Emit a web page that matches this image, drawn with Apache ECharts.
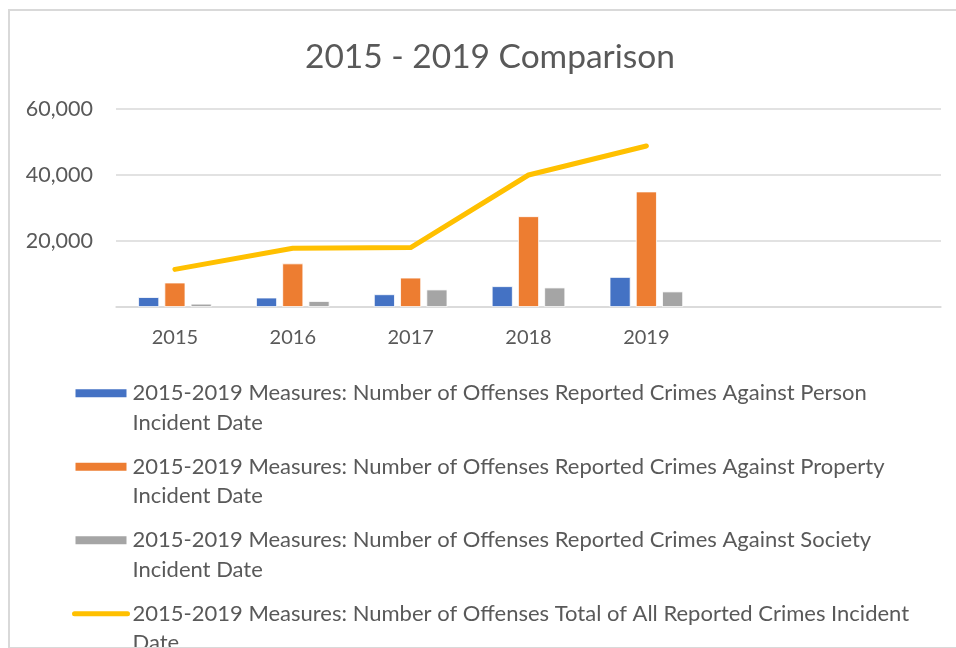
<!DOCTYPE html>
<html lang="en">
<head>
  <meta charset="UTF-8">
  <title>2015 - 2019 Comparison</title>
  <script src="https://cdn.jsdelivr.net/npm/echarts@6/dist/echarts.min.js"></script>
  <style>
    html, body { margin: 0; padding: 0; background: #fff; }
    #frame {
      position: absolute;
      left: 8px;
      top: 9px;
      width: 960px;
      height: 636px;
      border: 2px solid #d9d9d9;
      overflow: hidden;
    }
    #main {
      position: absolute;
      left: -10px;
      top: -11px;
      width: 956px;
      height: 648px;
    }
  </style>
</head>
<body>
<div id="frame"><div id="main"></div></div>
<script>
  const chart = echarts.init(document.getElementById('main'));

  const years = ['2015', '2016', '2017', '2018', '2019'];
  const emptySlots = ['', ''];   // the plot area runs on past 2019
  const person = [3000, 2850, 3850, 6300, 9100];
  const property = [7400, 13200, 8900, 27500, 35000];
  const society = [1000, 1800, 5300, 5900, 4700];
  const total = [11400, 17800, 18000, 40000, 48800];

  const names = [
    '2015-2019 Measures: Number of Offenses Reported Crimes Against Person\nIncident Date',
    '2015-2019 Measures: Number of Offenses Reported Crimes Against Property\nIncident Date',
    '2015-2019 Measures: Number of Offenses Reported Crimes Against Society\nIncident Date',
    '2015-2019 Measures: Number of Offenses Total of All Reported Crimes Incident\nDate'
  ];

  const textColor = '#595959';
  const font = 'Lato, "Open Sans", sans-serif';

  const bar = (name, data, color) => ({
    name,
    type: 'bar',
    data,
    barWidth: 21,
    barGap: '25%',
    itemStyle: { color, borderColor: '#fff', borderWidth: 0.8 }
  });

  chart.setOption({
    animation: false,
    textStyle: { fontFamily: font },
    title: {
      text: '2015 - 2019 Comparison',
      left: 485,
      textAlign: 'center',
      top: 35,
      textStyle: { fontSize: 33.5, fontWeight: 'normal', color: textColor, fontFamily: font }
    },
    legend: {
      orient: 'vertical',
      left: 72,
      top: 349,
      height: 800,
      padding: 0,
      itemWidth: 53,
      itemHeight: 10,
      itemGap: -15,
      // leading blank line puts the first text line level with the icon
      formatter: name => '\n' + name,
      data: [
        { name: names[0], icon: 'rect' },
        { name: names[1], icon: 'rect' },
        { name: names[2], icon: 'rect' },
        { name: names[3], itemStyle: { opacity: 0 }, lineStyle: { width: 5, cap: 'round' } }
      ],
      textStyle: {
        fontSize: 22,
        color: textColor,
        fontFamily: font,
        lineHeight: 29.5
      }
    },
    grid: { left: 116, right: 15, top: 109, bottom: 341 },
    xAxis: {
      type: 'category',
      data: years.concat(emptySlots),
      axisLine: { lineStyle: { color: '#d9d9d9', width: 1.5 } },
      axisTick: { show: false },
      axisLabel: { color: textColor, fontSize: 20, margin: 21, fontFamily: font }
    },
    yAxis: {
      type: 'value',
      min: 0,
      max: 60000,
      interval: 20000,
      axisLine: { show: false },
      axisTick: { show: false },
      splitLine: { lineStyle: { color: '#d9d9d9', width: 1.5 } },
      axisLabel: {
        color: textColor,
        fontSize: 21.5,
        margin: 23,
        fontFamily: font,
        showMinLabel: false,
        formatter: v => v.toLocaleString('en-US')
      }
    },
    series: [
      bar(names[0], person, '#4472C4'),
      bar(names[1], property, '#ED7D31'),
      bar(names[2], society, '#A5A5A5'),
      {
        name: names[3],
        type: 'line',
        data: total,
        symbol: 'none',
        z: 5,
        itemStyle: { color: '#FFC000' },
        lineStyle: { color: '#FFC000', width: 5, cap: 'round', join: 'round' }
      }
    ]
  });
</script>
</body>
</html>
